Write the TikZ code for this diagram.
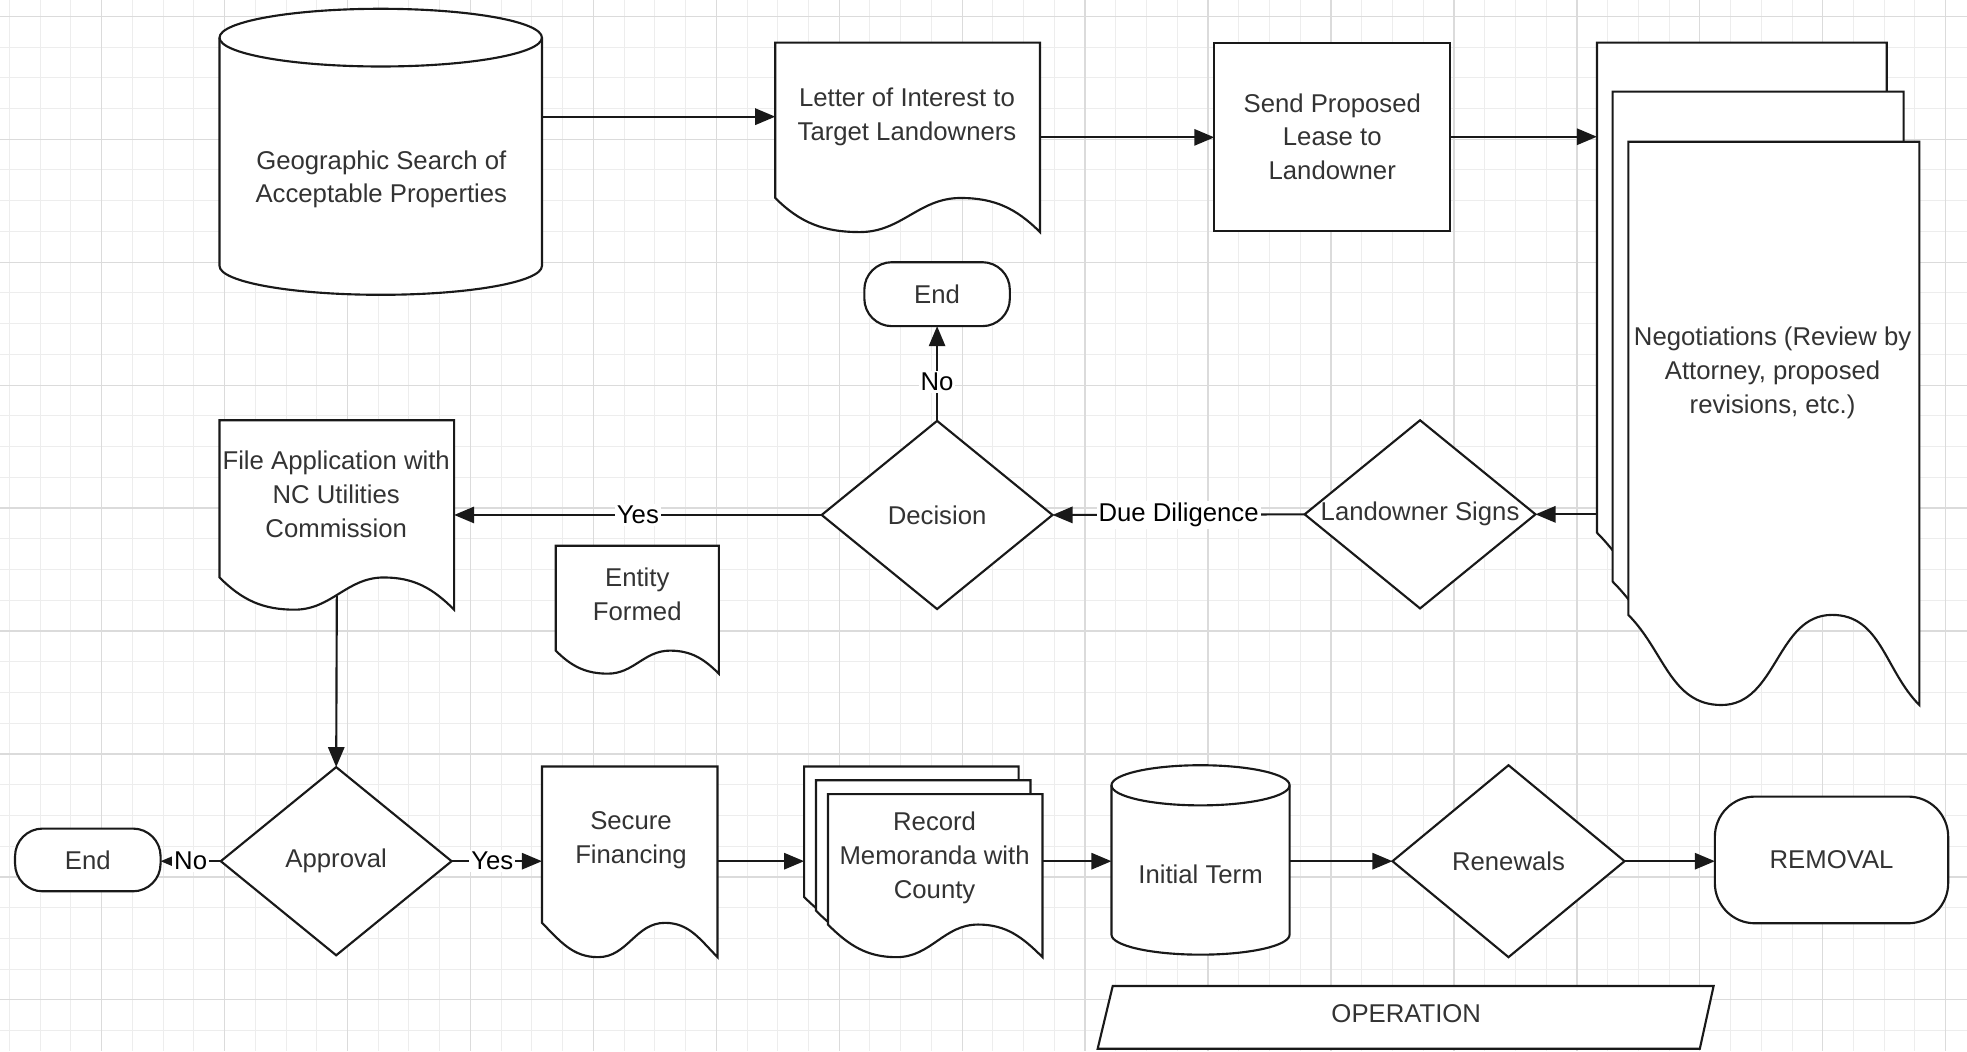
\documentclass[tikz,border=0pt]{standalone}
\usepackage{fontspec}
\setmainfont{Liberation Sans}
\usetikzlibrary{shapes.geometric,arrows.meta,calc}
\newcommand\docshape[2]{%
  \path[shp] let \p1=(#1.north west), \p2=(#1.south east), \n1={\x2-\x1}, \n2={\y1-\y2} in
    (\p1) -- (\x2,\y1) -- (\p2)
    to[out=135,in=0] ({\x1+0.7*\n1},{\y1-#2*\n2})
    to[out=180,in=0] ({\x1+0.32*\n1},\y2)
    to[out=180,in=-45] (\x1,{\y1-#2*\n2}) -- cycle;}
\begin{document}
\begin{tikzpicture}[x=1pt,y=-1pt,
  ln/.style={line width=1.7pt, draw=black!90},
  shp/.style={ln, fill=white},
  bx/.style={inner sep=0pt, outer sep=0pt, draw=none},
  txt/.style={text=black!80, align=center, font=\fontsize{20.5}{27}\selectfont, inner sep=0pt},
  lab/.style={text=black, font=\fontsize{20.5}{24}\selectfont, fill=white, inner sep=1.5pt},
  arr/.style={ln, -{Triangle[length=16pt,width=13pt]}},
  dia/.style={shp, diamond, inner sep=0pt, outer sep=0pt},
  rct/.style={shp, rectangle, inner sep=0pt, outer sep=0pt},
  pill/.style={shp, rectangle, rounded corners=22pt, inner sep=0pt, outer sep=0pt},
  gmin/.style={draw=black!7, line width=0.8pt},
  gmaj/.style={draw=black!14, line width=1pt},
]
\useasboundingbox (0,0) rectangle (1568,838);
\fill[white] (0,0) rectangle (1568,838);
% grid
\foreach \i in {0,...,64} { \draw[gmin] ({7.5+\i*24.5},0) -- ({7.5+\i*24.5},838); }
\foreach \j in {0,...,34} { \draw[gmin] (0,{13+\j*24.5}) -- (1568,{13+\j*24.5}); }
\foreach \i in {0,...,15} { \draw[gmaj] ({81+\i*98},0) -- ({81+\i*98},838); }
\foreach \j in {0,...,8} { \draw[gmaj] (0,{13+\j*98}) -- (1568,{13+\j*98}); }

% Geographic search cylinder
\node[bx, minimum width=257pt, minimum height=228pt] (gs) at (303.5,121) {};
\path[shp] (175,30) -- (175,212) arc[start angle=180, end angle=360, x radius=128.5pt, y radius=23pt]
  -- (432,30) arc[start angle=0, end angle=180, x radius=128.5pt, y radius=23pt] -- cycle;
\draw[ln] (175,30) arc[start angle=180, end angle=360, x radius=128.5pt, y radius=23pt];
\node[txt] (gs-t) at (304,143) {Geographic Search of\\Acceptable Properties};

% Letter of interest
\node[bx, minimum width=211pt, minimum height=151pt] (lt) at (723.5,109.5) {};
\docshape{lt}{0.82}
\node[txt] (lt-t) at (723,93) {Letter of Interest to\\Target Landowners};

% Send proposed lease
\node[rct, txt, minimum width=188pt, minimum height=150pt] (st) at (1062,109) {Send Proposed\\Lease to\\Landowner};

% Negotiations stack
\node[bx, minimum width=231pt, minimum height=449pt] (nb) at (1388.5,258.5) {};
\node[bx, minimum width=232pt, minimum height=449pt] (nm) at (1401.5,297.5) {};
\node[bx, minimum width=232pt, minimum height=449pt] (nf) at (1414,337.5) {};
\docshape{nb}{0.87}
\docshape{nm}{0.87}
\docshape{nf}{0.84}
\node[txt] (nf-t) at (1413,297) {Negotiations (Review by\\Attorney, proposed\\revisions, etc.)};

% Landowner signs, decision, end
\node[dia, minimum width=184pt, minimum height=150pt, label={[txt]center:Landowner Signs}] (ls) at (1132,410) {};
\node[dia, minimum width=184pt, minimum height=150pt, label={[txt]center:Decision}] (dec) at (747,410.5) {};
\node[pill, minimum width=116pt, minimum height=51pt, label={[txt]center:End}] (e1) at (747,234.5) {};

% File application
\node[bx, minimum width=187pt, minimum height=151pt] (fa) at (268.5,410.5) {};
\docshape{fa}{0.83}
\node[txt] (fa-t) at (268,394) {File Application with\\NC Utilities\\Commission};
\coordinate (fa-b) at ($(fa.south)+(0,-11)$);

% Entity formed
\node[bx, minimum width=130pt, minimum height=102pt] (ef) at (508,486) {};
\docshape{ef}{0.82}
\node[txt] (ef-t) at (508,474) {Entity\\Formed};

% Approval, end
\node[dia, minimum width=184pt, minimum height=150pt, label={[txt]center:Approval}] (ap) at (268,686.5) {};
\node[pill, minimum width=116pt, minimum height=50pt, label={[txt]center:End}] (e2) at (70,685.5) {};

% Secure financing
\node[bx, minimum width=140pt, minimum height=152pt] (sf) at (502,687) {};
\docshape{sf}{0.82}
\node[txt] (sf-t) at (503,670) {Secure\\Financing};

% Record memoranda stack
\node[bx, minimum width=171pt, minimum height=130pt] (rb) at (726.5,676) {};
\node[bx, minimum width=171pt, minimum height=130pt] (rm) at (736,687) {};
\node[bx, minimum width=171pt, minimum height=130pt] (rf) at (745.5,698) {};
\docshape{rb}{0.8}
\docshape{rm}{0.8}
\docshape{rf}{0.8}
\node[txt] (rf-t) at (745,684) {Record\\Memoranda with\\County};

% Initial term cylinder
\node[bx, minimum width=142pt, minimum height=151pt] (it) at (957,685.5) {};
\path[shp] (886,626) -- (886,745) arc[start angle=180, end angle=360, x radius=71pt, y radius=16pt]
  -- (1028,626) arc[start angle=0, end angle=180, x radius=71pt, y radius=16pt] -- cycle;
\draw[ln] (886,626) arc[start angle=180, end angle=360, x radius=71pt, y radius=16pt];
\node[txt] (it-t) at (957,697) {Initial Term};

% Renewals, removal
\node[dia, minimum width=185pt, minimum height=153pt, label={[txt]center:Renewals}] (ren) at (1202.5,686.5) {};
\node[shp, rectangle, rounded corners=32pt, inner sep=0pt, outer sep=0pt, minimum width=186pt, minimum height=101pt, label={[txt]center:REMOVAL}] (rem) at (1460,685.5) {};

% Operation
\node[bx, minimum width=480pt, minimum height=50pt] (op) at (1120.5,811) {};
\path[shp] (887,786) -- (1366,786) -- (1355,836) -- (875,836) -- cycle;
\node[txt] (op-t) at (1121,808) {OPERATION};

% connectors
\draw[arr] (gs.east |- lt-t) -- (lt.west |- lt-t);
\draw[arr] (lt.east) -- (st.west |- lt.east);
\draw[arr] (st.east) -- (nb.west |- st.east);
\draw[arr] (nb.west |- ls.east) -- (ls.east);
\draw[arr] (ls.west) -- node[lab]{Due Diligence} (dec.east);
\draw[arr] (dec.north) -- node[lab,pos=0.41]{No} (e1.south);
\draw[arr] (dec.west) -- node[lab]{Yes} (fa.east |- dec.west);
\draw[arr] (fa-b) -- (ap.north);
\draw[arr] (ap.west) -- node[lab]{No} (e2.east |- ap.west);
\draw[arr] (ap.east) -- node[lab,pos=0.45]{Yes} (sf.west |- ap.east);
\draw[arr] (sf.east |- ren.west) -- (rb.west |- ren.west);
\draw[arr] (rf.east |- ren.west) -- (it.west |- ren.west);
\draw[arr] (it.east |- ren.west) -- (ren.west);
\draw[arr] (ren.east) -- (rem.west |- ren.east);
\end{tikzpicture}
\end{document}
